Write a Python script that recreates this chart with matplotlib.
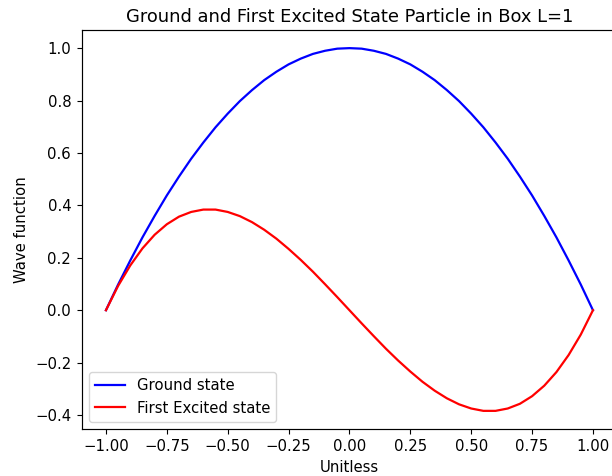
import matplotlib
matplotlib.use("Agg")
import matplotlib.pyplot as plt
import numpy as np

# positions along the box (unitless)
x = [-1.0, -0.95, -0.9, -0.85, -0.8, -0.75, -0.7, -0.65, -0.6, -0.55, -0.5,
     -0.45, -0.4, -0.35, -0.3, -0.25, -0.2, -0.15, -0.1, -0.05, 0.0,
     0.05, 0.1, 0.15, 0.2, 0.25, 0.3, 0.35, 0.4, 0.45, 0.5,
     0.55, 0.6, 0.65, 0.7, 0.75, 0.8, 0.85, 0.9, 0.95, 1.0]

ground = [0.0, 0.098, 0.19, 0.278, 0.36, 0.438, 0.51, 0.578, 0.64, 0.698, 0.75,
          0.798, 0.84, 0.878, 0.91, 0.938, 0.96, 0.978, 0.99, 0.998, 1.0,
          0.998, 0.99, 0.978, 0.96, 0.938, 0.91, 0.878, 0.84, 0.798, 0.75,
          0.698, 0.64, 0.578, 0.51, 0.438, 0.36, 0.278, 0.19, 0.098, 0.0]

excited = [0.0, 0.093, 0.171, 0.236, 0.288, 0.328, 0.357, 0.375, 0.384, 0.384, 0.375,
           0.359, 0.336, 0.307, 0.273, 0.234, 0.192, 0.147, 0.099, 0.05, 0.0,
           -0.05, -0.099, -0.147, -0.192, -0.234, -0.273, -0.307, -0.336, -0.359, -0.375,
           -0.384, -0.384, -0.375, -0.357, -0.328, -0.288, -0.236, -0.171, -0.093, 0.0]

# reference looks like it was rendered a touch bigger, scale everything a bit
s = 1.07
plt.rcParams['font.size'] = 10 * s
plt.rcParams['axes.titlesize'] = 12 * s
plt.rcParams['xtick.major.size'] = 3.5 * s
plt.rcParams['ytick.major.size'] = 3.5 * s
plt.rcParams['xtick.major.pad'] = 3.5 * s
plt.rcParams['ytick.major.pad'] = 3.5 * s
plt.rcParams['lines.linewidth'] = 1.5 * s
plt.rcParams['axes.linewidth'] = 0.8 * s

fig = plt.figure(figsize=(6.12, 4.76), dpi=100)
# the original image is cropped on the right, so the axes runs past the edge
ax = fig.add_axes([81.6 / 612, 1 - 429 / 476, 535.7 / 612, 399 / 476])

ax.plot(x, ground, color='blue', label='Ground state')
ax.plot(x, excited, color='red', label='First Excited state')

ax.set_title("Ground and First Excited State Particle in Box L=1")
ax.set_xlabel("Unitless")
ax.set_ylabel("Wave function")
ax.legend(loc='lower left')

fig.savefig("out.png", dpi=100)
